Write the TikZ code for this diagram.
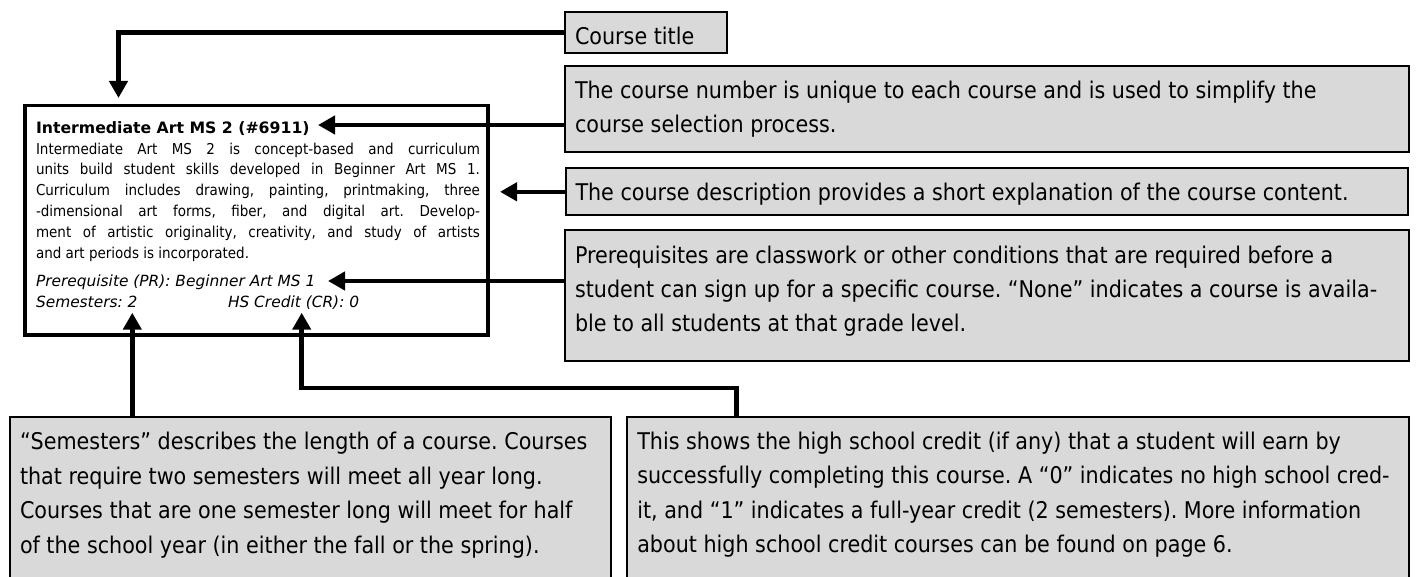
\documentclass[tikz,border=0pt]{standalone}
\usepackage{fontspec}
\setmainfont{DejaVu Sans Condensed}[BoldFont={DejaVu Sans Condensed Bold},ItalicFont={DejaVu Sans Condensed Oblique}]
\newfontfamily\widesans{DejaVu Sans}[BoldFont={DejaVu Sans Bold},ItalicFont={DejaVu Sans Oblique}]
\usetikzlibrary{arrows.meta}
\definecolor{boxgray}{HTML}{D9D9D9}
\tikzset{
  gbox/.style={draw=black, fill=boxgray, line width=2pt, inner sep=0pt, outer sep=0pt, anchor=north west, font=\fontsize{23pt}{34.4pt}\selectfont},
  mbox/.style={draw=black, fill=white, line width=3.5pt, inner sep=0pt, outer sep=0pt, anchor=north west, font=\fontsize{15pt}{20.8pt}\selectfont},
  conn/.style={line width=4.5pt, -{Triangle[width=18pt,length=17pt]}},
}
\newcommand\gtxt[3]{\hspace*{10pt}\parbox[c][#2][t]{\dimexpr#1-20pt\relax}{\raggedright\rule{0pt}{32.5pt}#3}\hspace*{10pt}}
\newcommand\jl[1]{\makebox[444pt][s]{#1}}
\newcommand\ttl[1]{{\widesans\bfseries\fontsize{15.7pt}{20.8pt}\selectfont #1}}
\newcommand\itl[1]{{\widesans\itshape\fontsize{15.4pt}{20.8pt}\selectfont #1}}
\frenchspacing
\begin{document}
\frenchspacing
\begin{tikzpicture}[x=1pt,y=-1pt]
\useasboundingbox (0,0) rectangle (1416,577);
\clip (0,0) rectangle (1416,577);

\node[mbox] (course) at (25,105.7) {\hspace*{11pt}\parbox[c][229.3pt][t]{444pt}{\rule{0pt}{27.6pt}\ttl{Intermediate Art MS 2 (\#6911)}\\
\jl{Intermediate Art MS 2 is concept-based and curriculum}\\
\jl{units build student skills developed in Beginner Art MS 1.}\\
\jl{Curriculum includes drawing, painting, printmaking, three}\\
\jl{-dimensional art forms, fiber, and digital art. Develop-}\\
\jl{ment of artistic originality, creativity, and study of artists}\\
and art periods is incorporated.\\[7.6pt]
\itl{Prerequisite (PR): Beginner Art MS 1}\\
\itl{\makebox[192pt][l]{Semesters: 2}HS Credit (CR): 0}}\hspace*{8pt}};

\node[gbox] (ctitle) at (565,11.7) {\gtxt{162.3pt}{41.6pt}{Course title}};
\node[gbox] (cnum) at (565,66) {\gtxt{843.5pt}{86.5pt}{The course number is unique to each course and is used to simplify the\\course selection process.}};
\node[gbox] (cdesc) at (565.5,168.3) {\gtxt{842.5pt}{47pt}{The course description provides a short explanation of the course content.}};
\node[gbox] (cprereq) at (565,230.5) {\gtxt{844pt}{130pt}{Prerequisites are classwork or other conditions that are required before a\\student can sign up for a specific course. “None” indicates a course is availa-\\ble to all students at that grade level.}};
\node[gbox] (csem) at (10,417.3) {\gtxt{600.7pt}{175pt}{“Semesters” describes the length of a course. Courses\\that require two semesters will meet all year long.\\Courses that are one semester long will meet for half\\of the school year (in either the fall or the spring).}};
\node[gbox] (ccredit) at (627.3,417) {\gtxt{781.4pt}{175pt}{This shows the high school credit (if any) that a student will earn by\\successfully completing this course. A “0” indicates no high school cred-\\it, and “1” indicates a full-year credit (2 semesters). More information\\about high school credit courses can be found on page 6.}};

\coordinate (tipT) at (118.5,98);
\coordinate (tipN) at (318,125);
\coordinate (tipD) at (500,191.8);
\coordinate (tipP) at (328,281);
\coordinate (tipS) at (132.3,312.7);
\coordinate (tipC) at (301.7,312.7);
\coordinate (bendC) at (736.7,388);

\draw[conn] (ctitle.west) -| (tipT);
\draw[conn] (cnum.west |- tipN) -- (tipN);
\draw[conn] (cdesc.west) -- (tipD);
\draw[conn] (cprereq.west |- tipP) -- (tipP);
\draw[conn] (csem.north -| tipS) -- (tipS);
\draw[conn] (ccredit.north -| bendC) -- (bendC) -| (tipC);
\end{tikzpicture}
\end{document}
